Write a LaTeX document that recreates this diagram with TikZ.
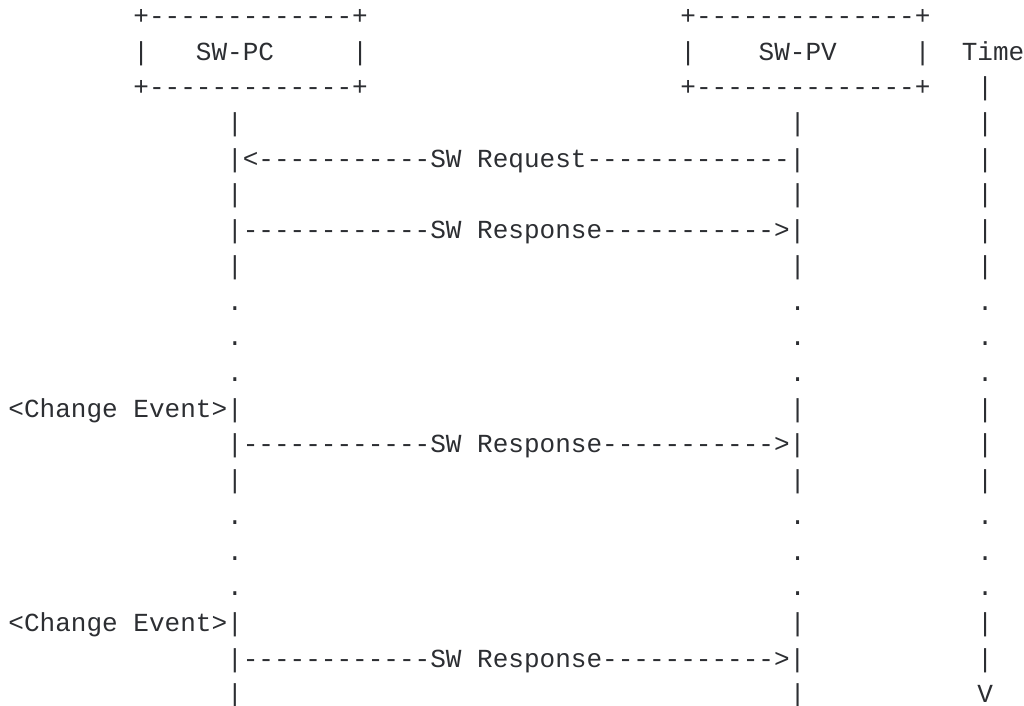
\documentclass[tikz,border=0pt]{standalone}
\usepackage{fontspec}
\setmonofont{Liberation Mono}

\definecolor{ink}{RGB}{44,46,50}

% one character cell of the chart is one x unit wide and one y unit high
\tikzset{
    ascii/.style={anchor=base west, inner sep=0pt, outer sep=0pt, text=ink,
        font=\ttfamily\fontsize{13.02pt}{13.02pt}\selectfont},
}

\begin{document}
\begin{tikzpicture}[x=7.815pt, y=-17.85pt]
    \useasboundingbox (-4.2pt,-5.6pt) rectangle (507.8pt,-358.6pt);

    % SW-PC box
    \node[ascii] (pc top)   at (8,1)  {+-------------+};
    \node[ascii] (pc left)  at (8,2)  {|};
    \node[ascii] (pc)       at (12,2) {SW-PC};
    \node[ascii] (pc right) at (22,2) {|};
    \node[ascii] (pc bot)   at (8,3)  {+-------------+};

    % SW-PV box and the time axis label
    \node[ascii] (pv top)   at (43,1) {+--------------+};
    \node[ascii] (pv left)  at (43,2) {|};
    \node[ascii] (pv)       at (48,2) {SW-PV};
    \node[ascii] (pv right) at (58,2) {|};
    \node[ascii] (pv bot)   at (43,3) {+--------------+};
    \node[ascii] (time)     at (61,2) {Time};

    % messages
    \node[ascii] (req) at (14,5) {|<-----------SW Request-------------|};
    \foreach \r in {7,13,19}
        \node[ascii] (resp \r) at (14,\r) {|------------SW Response----------->|};

    % events on the SW-PC side
    \foreach \r in {12,18}
        \node[ascii] (event \r) at (0,\r) {<Change Event>|};

    % lifelines
    \foreach \r in {4,6,8,14,20}
        \node[ascii] (pc line \r) at (14,\r) {|};
    \foreach \r in {4,6,8,12,14,18,20}
        \node[ascii] (pv line \r) at (50,\r) {|};
    \foreach \r in {3,...,8,12,13,14,18,19}
        \node[ascii] (time line \r) at (62,\r) {|};
    \node[ascii] (time end) at (62,20) {V};

    % time passing
    \foreach \r in {9,10,11,15,16,17} {
        \node[ascii] (pc gap \r)   at (14,\r) {.};
        \node[ascii] (pv gap \r)   at (50,\r) {.};
        \node[ascii] (time gap \r) at (62,\r) {.};
    }
\end{tikzpicture}
\end{document}
